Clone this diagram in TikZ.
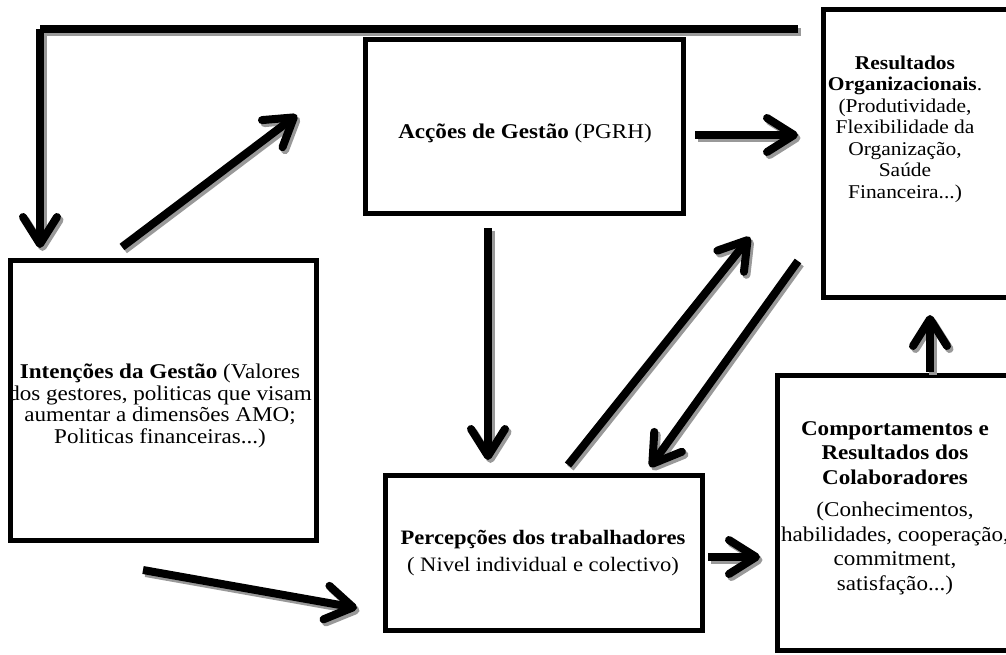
\documentclass[tikz,border=0pt]{standalone}
\usepackage{fontspec}
\setmainfont{Liberation Serif}[FakeStretch=1.1]
\usetikzlibrary{arrows.meta,calc}

% all connectors of the scheme, drawn with the style given as argument
\newcommand{\schemelinks}[1]{%
  \draw[bar,#1] (fbS) -- (fbS -| fbE);
  \draw[arr,#1] (fbS -| fbE) -- (fbE);
  \draw[arr,#1] (a1) -- (a2);
  \draw[arr,#1] (b1) -- (b2);
  \draw[arr,#1] (c1) -- (c2);
  \draw[arr,#1] (d1) -- (d2);
  \draw[arr,#1] (e1) -- (e2);
  \draw[arr,#1] (f1) -- (f2);
  \draw[arr,#1] (g1) -- (g2);
  \draw[arr,#1] (h1) -- (h2);}

\begin{document}
\begin{tikzpicture}[x=1pt,y=-1pt,
  box/.style={draw, line width=5pt, inner sep=0pt, outer sep=0pt},
  txt/.style={align=center, inner sep=0pt},
  arr/.style={line width=8pt, -{Straight Barb[length=27pt, width=34pt, round]}},
  bar/.style={line width=8pt},
  shadowcol/.style={draw=black!40}]

\useasboundingbox (0,0) rectangle (1006,655);

% boxes
\node[box, minimum width=318pt, minimum height=173pt] (acoes) at (524,126.5) {};
\node[box, minimum width=197pt, minimum height=287pt] (res)   at (921.5,153.5) {};
\node[box, minimum width=306pt, minimum height=280pt] (int)   at (163,400) {};
\node[box, minimum width=317pt, minimum height=155pt] (perc)  at (543.5,552.5) {};
\node[box, minimum width=243pt, minimum height=275pt] (comp)  at (898.5,512.5) {};

% texts
\node[txt, font=\fontsize{21}{21}\selectfont] (acoesT) at (525,133)
  {\textbf{Acções de Gestão} (PGRH)};
\node[txt, font=\fontsize{19.5}{21.5}\selectfont] (resT) at (905,129)
  {\textbf{Resultados}\\\textbf{Organizacionais}.\\(Produtividade,\\Flexibilidade da\\Organização,\\Saúde\\Financeira...)};
\node[txt, font=\fontsize{21}{21.5}\selectfont] (intT) at (160,406)
  {\textbf{Intenções da Gestão} (Valores\\dos gestores, politicas que visam\\aumentar a dimensões AMO;\\Politicas financeiras...)};
\node[txt, font=\fontsize{20.5}{27}\selectfont] (percT) at (543,553)
  {\textbf{Percepções dos trabalhadores}\\( Nivel individual e colectivo)};
\node[txt, font=\fontsize{21}{24.5}\selectfont] (compT) at (895,508)
  {\textbf{Comportamentos e}\\\textbf{Resultados dos}\\\textbf{Colaboradores}\\[8pt](Conhecimentos,\\habilidades, cooperação,\\commitment,\\satisfação...)};

% connector end points
\coordinate (fbS) at (798,29);
\coordinate (fbE) at (40,248);
\coordinate (a1) at (122,247);  \coordinate (a2) at (297,115);
\coordinate (b1) at (695,135);  \coordinate (b2) at (798,135);
\coordinate (c1) at (488,228);  \coordinate (c2) at (488,460);
\coordinate (d1) at (568,465);  \coordinate (d2) at (750,237);
\coordinate (e1) at (798,261);  \coordinate (e2) at (650,467);
\coordinate (f1) at (143,570);  \coordinate (f2) at (357,608);
\coordinate (g1) at (708,557);  \coordinate (g2) at (760,557);
\coordinate (h1) at (930,372);  \coordinate (h2) at (930,315);

% grey drop shadow, then the connectors themselves
\begin{scope}[transform canvas={shift={(2.5pt,-3pt)}}]
  \schemelinks{shadowcol}
\end{scope}
\schemelinks{black}
\end{tikzpicture}
\end{document}
